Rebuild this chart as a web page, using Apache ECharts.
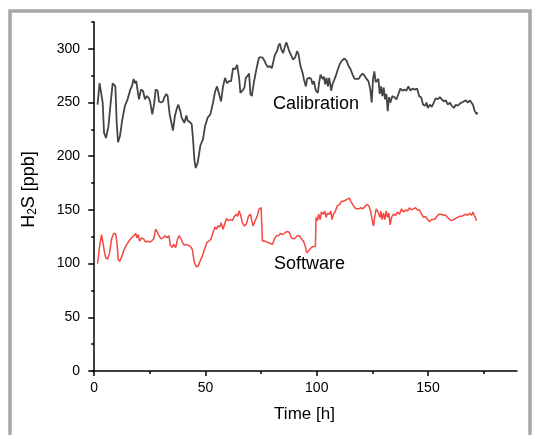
<!DOCTYPE html>
<html>
<head>
<meta charset="utf-8">
<script src="https://cdn.jsdelivr.net/npm/echarts@6/dist/echarts.min.js"></script>
<style>
    html, body { margin: 0; padding: 0; background: #fff; }
    #chart { width: 533px; height: 435px; }
</style>
</head>
<body>
<div id="chart"></div>
<script>
'use strict';

// Calibration curve (time [h], H2S [ppb])
var calTime = [1.5, 2.4, 2.8, 3.8, 4.4, 5.3, 6.4, 7.4, 8.3, 8.9, 9.5, 10.1, 10.7, 11.6, 12.6, 13.8, 15.0, 16.2, 16.9, 17.7,
    18.3, 18.9, 19.5, 20.1, 21.0, 21.9, 22.8, 23.7, 24.6, 25.2, 26.1, 27.0, 27.6, 28.5, 29.1, 30.0, 30.9, 31.5, 32.4, 33.0,
    33.9, 34.8, 35.4, 36.3, 37.2, 37.8, 38.7, 39.3, 39.9, 40.5, 41.4, 42.0, 42.9, 43.8, 44.4, 45.0, 45.6, 46.5, 47.7, 48.9,
    49.8, 51.0, 52.2, 53.4, 54.3, 55.2, 56.1, 57.0, 57.9, 58.8, 59.7, 60.6, 61.5, 62.4, 63.3, 64.2, 65.1, 65.7, 66.6, 67.5,
    68.1, 69.0, 69.6, 70.2, 70.8, 71.7, 72.6, 73.5, 74.1, 74.7, 75.6, 76.5, 77.1, 78.0, 78.9, 79.8, 80.7, 81.3, 82.2, 82.8,
    83.4, 84.0, 84.9, 85.8, 86.4, 87.0, 87.6, 88.5, 89.4, 90.3, 91.2, 91.8, 92.7, 93.6, 94.2, 95.1, 95.7, 96.6, 97.5, 98.1,
    98.7, 99.6, 100.5, 101.1, 101.7, 102.6, 103.2, 103.8, 104.4, 105.0, 105.6, 106.5, 107.1, 107.7, 108.6, 109.5, 110.4, 111.3, 112.5, 113.4,
    114.3, 115.2, 116.1, 117.0, 117.9, 118.8, 119.7, 120.6, 121.5, 122.4, 123.2, 124.1, 124.7, 125.3, 125.9, 126.5, 127.1, 127.7, 128.3, 128.9,
    129.5, 130.1, 130.7, 131.3, 131.9, 132.5, 133.1, 134.0, 134.9, 135.8, 136.7, 137.6, 138.5, 139.4, 140.3, 141.2, 142.1, 143.0, 144.2, 145.1,
    146.0, 146.9, 147.8, 148.7, 149.3, 149.9, 150.8, 151.7, 152.6, 153.5, 154.4, 155.3, 156.2, 157.1, 158.0, 158.9, 159.8, 160.7, 161.6, 162.5,
    163.4, 164.3, 165.2, 166.1, 167.0, 167.9, 168.8, 170.2, 171.0, 171.9, 172.2];
var calValue = [248, 268, 269, 250, 222, 217, 228, 250, 268, 269, 265, 231, 213, 219, 234, 247, 253, 262, 265, 272,
    268, 270, 261, 253, 262, 261, 253, 256, 254, 250, 239, 250, 262, 261, 251, 250, 251, 255, 258, 256,
    239, 230, 224, 238, 245, 248, 242, 236, 237, 231, 238, 233, 232, 230, 216, 197, 189, 194, 210, 216,
    228, 236, 239, 250, 260, 265, 258, 251, 265, 273, 268, 270, 270, 282, 281, 285, 273, 259, 261, 264,
    273, 275, 277, 258, 256, 268, 278, 287, 292, 291, 292, 289, 286, 283, 284, 282, 290, 295, 298, 303,
    305, 300, 296, 303, 306, 306, 298, 294, 290, 292, 298, 295, 284, 278, 272, 265, 272, 273, 272, 267,
    270, 261, 259, 269, 276, 272, 274, 267, 273, 265, 273, 261, 267, 266, 275, 281, 286, 289, 291, 289,
    284, 281, 276, 272, 272, 272, 275, 277, 275, 272, 270, 262, 250, 272, 279, 269, 270, 272, 258, 265,
    256, 264, 253, 258, 242, 255, 250, 256, 255, 253, 258, 263, 261, 262, 261, 265, 261, 263, 262, 263,
    256, 255, 248, 247, 250, 245, 248, 246, 250, 254, 253, 255, 253, 251, 252, 248, 250, 247, 245, 248,
    247, 249, 250, 251, 252, 250, 252, 248, 242, 239, 241];

// Software curve (time [h], H2S [ppb])
var swTime = [1.5, 2.4, 3.3, 3.9, 4.5, 5.1, 6.0, 6.9, 7.8, 8.7, 9.6, 10.2, 10.8, 11.4, 12.3, 13.2, 14.4, 15.6, 16.8, 17.7,
    18.6, 19.2, 19.8, 20.4, 21.3, 22.2, 23.1, 24.0, 24.9, 25.8, 26.7, 27.6, 28.2, 29.1, 30.0, 30.9, 31.8, 32.7, 33.6, 34.2,
    35.1, 35.7, 36.6, 37.5, 38.1, 39.0, 39.6, 40.5, 41.4, 42.3, 43.2, 44.1, 45.0, 45.9, 46.8, 47.7, 48.6, 49.5, 50.7, 51.6,
    52.5, 53.4, 54.3, 54.9, 55.5, 56.4, 57.0, 57.9, 58.8, 59.4, 60.3, 61.2, 62.1, 63.0, 63.9, 64.5, 65.1, 65.7, 66.6, 67.5,
    68.4, 69.3, 70.2, 70.8, 71.4, 72.3, 73.2, 74.1, 75.0, 75.6, 76.5, 77.7, 78.9, 80.1, 81.0, 81.9, 82.8, 83.7, 84.7, 85.9,
    86.8, 87.7, 88.6, 89.5, 90.4, 91.3, 92.2, 93.1, 94.0, 94.9, 95.5, 96.1, 96.7, 97.6, 98.5, 99.4, 99.7, 100.3, 100.9, 101.5,
    102.1, 103.0, 103.6, 104.2, 104.8, 105.7, 106.3, 106.9, 107.5, 108.4, 109.3, 110.2, 111.1, 112.0, 112.9, 113.8, 114.7, 115.3, 116.2, 117.1,
    118.0, 118.9, 119.8, 120.7, 121.6, 122.5, 123.4, 124.3, 124.9, 125.5, 126.1, 126.7, 127.3, 127.9, 128.5, 128.8, 129.4, 130.0, 130.6, 131.2,
    131.8, 132.4, 133.0, 133.6, 134.5, 135.4, 136.3, 137.2, 138.1, 139.0, 139.9, 140.8, 141.7, 142.6, 143.5, 144.4, 145.3, 146.2, 147.1, 148.0,
    148.9, 149.8, 150.7, 151.6, 152.5, 153.4, 154.3, 155.2, 156.1, 157.0, 157.9, 158.8, 159.7, 160.6, 161.5, 162.4, 163.3, 164.2, 165.1, 166.0,
    166.9, 167.8, 168.7, 169.6, 170.2, 170.8, 171.3, 171.8];
var swValue = [100, 116, 127, 126, 112, 106, 104, 110, 123, 128, 128, 120, 104, 102, 106, 112, 117, 121, 124, 126,
    128, 124, 127, 121, 124, 123, 120, 121, 120, 121, 123, 132, 130, 126, 123, 124, 126, 124, 126, 117,
    115, 118, 115, 123, 126, 123, 120, 117, 118, 117, 116, 113, 101, 97, 98, 103, 107, 113, 120, 121,
    123, 129, 134, 132, 135, 134, 138, 132, 138, 142, 140, 141, 140, 144, 146, 144, 149, 146, 138, 135,
    137, 144, 146, 140, 135, 140, 144, 151, 152, 121, 121, 120, 119, 118, 123, 126, 126, 128, 127, 129,
    130, 129, 124, 123, 124, 126, 126, 123, 121, 116, 110, 109, 113, 115, 116, 116, 143, 140, 146, 141,
    148, 146, 149, 143, 147, 146, 149, 141, 146, 149, 154, 155, 158, 158, 159, 160, 161, 158, 155, 152,
    151, 151, 152, 151, 153, 155, 154, 148, 141, 135, 144, 151, 149, 146, 143, 149, 141, 147, 141, 149,
    143, 147, 136, 143, 146, 145, 148, 146, 151, 148, 150, 149, 152, 150, 151, 152, 150, 150, 146, 143,
    144, 141, 139, 141, 141, 142, 145, 146, 146, 145, 145, 143, 141, 140, 141, 142, 143, 144, 144, 145,
    146, 145, 147, 145, 148, 145, 143, 140];

// axis ticks
var xMajorTicks = [0, 50, 100, 150];
var xMinorTicks = [25, 75, 125, 175];
var yMajorTicks = [0, 50, 100, 150, 200, 250, 300];
var yMinorTicks = [25, 75, 125, 175, 225, 275, 325];

var chartOpts = null;
var FONT = 'Liberation Sans, Arial, sans-serif';

function zip(xs, ys) {
    return xs.map(function (x, i) { return [x, ys[i]]; });
}

function init() {
    const chart = document.getElementById('chart');
    const option = {
        animation: false,
        backgroundColor: '#fff',
        grid: {
            left: 92,
            top: 22,
            right: 16,
            bottom: 64,
        },
        xAxis: [
            {
                type: 'value',
                min: -1,
                max: 190,
                name: 'Time [h]',
                nameLocation: 'middle',
                nameGap: 35,
                nameTextStyle: { color: '#000', fontSize: 17, fontFamily: FONT },
                axisLine: { show: true, lineStyle: { color: '#000', width: 1.5 } },
                axisTick: { show: true, customValues: xMajorTicks, length: 5, lineStyle: { color: '#000', width: 1.5 } },
                axisLabel: { customValues: xMajorTicks, color: '#000', fontSize: 14, fontFamily: FONT, margin: 10 },
                splitLine: { show: false },
            },
            {
                // minor ticks
                type: 'value',
                position: 'bottom',
                min: -1,
                max: 190,
                axisLine: { show: false },
                axisTick: { show: true, customValues: xMinorTicks, length: 3, lineStyle: { color: '#000', width: 1.5 } },
                axisLabel: { show: false },
                splitLine: { show: false },
            },
        ],
        yAxis: [
            {
                type: 'value',
                min: 0,
                max: 325,
                name: 'H{sub|2}S [ppb]',
                nameLocation: 'middle',
                nameGap: 53,
                nameTextStyle: {
                    color: '#000',
                    fontSize: 18,
                    fontFamily: FONT,
                    padding: [0, 0, 0, 14],
                    rich: {
                        sub: { fontSize: 12, fontFamily: FONT, color: '#000', verticalAlign: 'bottom', padding: [8, 0, 0, 0] },
                    },
                },
                axisLine: { show: true, lineStyle: { color: '#000', width: 1.5 } },
                axisTick: { show: true, customValues: yMajorTicks, length: 6, lineStyle: { color: '#000', width: 1.5 } },
                axisLabel: { customValues: yMajorTicks, color: '#000', fontSize: 14, fontFamily: FONT, margin: 12 },
                splitLine: { show: false },
            },
            {
                // minor ticks
                type: 'value',
                position: 'left',
                min: 0,
                max: 325,
                axisLine: { show: false },
                axisTick: { show: true, customValues: yMinorTicks, length: 3, lineStyle: { color: '#000', width: 1.5 } },
                axisLabel: { show: false },
                splitLine: { show: false },
            },
        ],
        series: [
            {
                name: 'Calibration',
                type: 'line',
                showSymbol: false,
                data: zip(calTime, calValue),
                lineStyle: { color: '#454545', width: 1.8 },
            },
            {
                name: 'Software',
                type: 'line',
                showSymbol: false,
                data: zip(swTime, swValue),
                lineStyle: { color: '#f4473f', width: 1.5 },
            },
        ],
        graphic: [
            {
                // frame
                type: 'rect',
                silent: true,
                shape: { x: 10, y: 11, width: 520, height: 500 },
                style: { fill: 'none', stroke: '#a8a8a8', lineWidth: 3.5 },
            },
            {
                type: 'text',
                left: 273,
                top: 95,
                style: { text: 'Calibration', fill: '#000', fontSize: 18, fontFamily: FONT },
            },
            {
                type: 'text',
                left: 274,
                top: 255,
                style: { text: 'Software', fill: '#000', fontSize: 18, fontFamily: FONT },
            },
        ],
    };
    chartOpts = echarts.init(chart);
    chartOpts.setOption(option);

    window.addEventListener('resize', (event) => {
        chartOpts.resize();
    });
}

(function () {
    init();
})();
</script>
</body>
</html>
